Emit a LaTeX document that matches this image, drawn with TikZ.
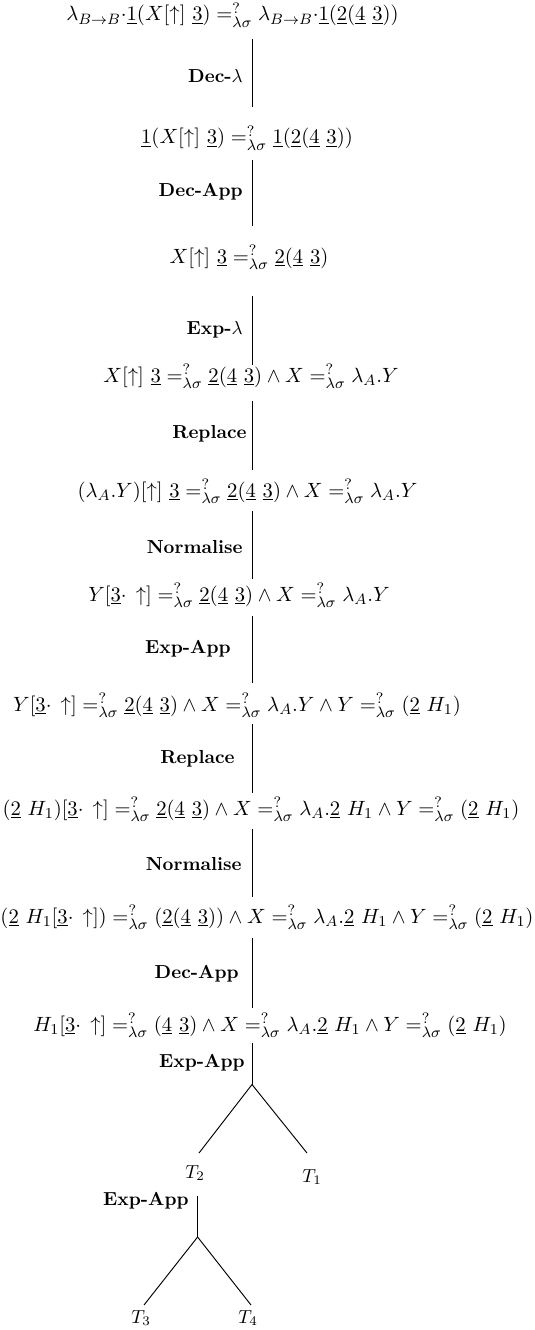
\documentclass[tikz,border=0pt]{standalone}
\usepackage{amsmath}
\begin{document}
\begin{tikzpicture}[x=0.5305pt,y=-0.5305pt,
  eq/.style={anchor=base,inner sep=0pt,font=\fontsize{10.8}{13}\selectfont},
  rule/.style={anchor=east,inner sep=0pt,font=\bfseries},
  leaf/.style={inner sep=0pt},
  edge/.style={line width=0.5pt}]
\useasboundingbox (0,0) rectangle (534,1330);
\newcommand{\equ}{=^{?}_{\lambda\sigma}}
\newcommand{\ul}[1]{\underline{#1}}
% equations
\node[eq] (l1) at (232.5,21) {$\lambda_{B\to B}{\cdot}\ul{1}(X[\uparrow]\ \ul{3}) \equ \lambda_{B\to B}{\cdot}\ul{1}(\ul{2}(\ul{4}\ \ul{3}))$};
\node[eq] (l2) at (247,144) {$\ul{1}(X[\uparrow]\ \ul{3}) \equ \ul{1}(\ul{2}(\ul{4}\ \ul{3}))$};
\node[eq] (l3) at (249,263) {$X[\uparrow]\ \ul{3} \equ \ul{2}(\ul{4}\ \ul{3})$};
\node[eq] (l4) at (251,382) {$X[\uparrow]\ \ul{3} \equ \ul{2}(\ul{4}\ \ul{3}) \wedge X \equ \lambda_A.Y$};
\node[eq] (l5) at (247.5,497) {$(\lambda_A.Y)[\uparrow]\ \ul{3} \equ \ul{2}(\ul{4}\ \ul{3}) \wedge X \equ \lambda_A.Y$};
\node[eq] (l6) at (239,601) {$Y[\ul{3}{\cdot}\,\uparrow] \equ \ul{2}(\ul{4}\ \ul{3}) \wedge X \equ \lambda_A.Y$};
\node[eq] (l7) at (237,711) {$Y[\ul{3}{\cdot}\,\uparrow] \equ \ul{2}(\ul{4}\ \ul{3}) \wedge X \equ \lambda_A.Y \wedge Y \equ (\ul{2}\ H_1)$};
\node[eq] (l8) at (261,815) {$(\ul{2}\ H_1)[\ul{3}{\cdot}\,\uparrow] \equ \ul{2}(\ul{4}\ \ul{3}) \wedge X \equ \lambda_A.\ul{2}\ H_1 \wedge Y \equ (\ul{2}\ H_1)$};
\node[eq] (l9) at (267,923) {$(\ul{2}\ H_1[\ul{3}{\cdot}\,\uparrow]) \equ (\ul{2}(\ul{4}\ \ul{3})) \wedge X \equ \lambda_A.\ul{2}\ H_1 \wedge Y \equ (\ul{2}\ H_1)$};
\node[eq] (l10) at (270,1031) {$H_1[\ul{3}{\cdot}\,\uparrow] \equ (\ul{4}\ \ul{3}) \wedge X \equ \lambda_A.\ul{2}\ H_1 \wedge Y \equ (\ul{2}\ H_1)$};
% rule labels
\node[rule] (r1) at (243,76) {Dec-$\lambda$};
\node[rule] (r2) at (243,192) {Dec-App};
\node[rule] (r3) at (243,330) {Exp-$\lambda$};
\node[rule] (r4) at (247,434) {Replace};
\node[rule] (r5) at (243,547) {Normalise};
\node[rule] (r6) at (231,649) {Exp-App};
\node[rule] (r7) at (235,759) {Replace};
\node[rule] (r8) at (242,864) {Normalise};
\node[rule] (r9) at (239,974) {Dec-App};
\node[rule] (r10) at (245,1063) {Exp-App};
\node[rule] (r11) at (189,1201) {Exp-App};
% connector endpoints
\coordinate (a1) at (252,39);   \coordinate (b1) at (252,107);
\coordinate (a2) at (252,160);  \coordinate (b2) at (252,226);
\coordinate (a3) at (252,296);  \coordinate (b3) at (252,365);
\coordinate (a4) at (252,401);  \coordinate (b4) at (252,470);
\coordinate (a5) at (252,511);  \coordinate (b5) at (252,579);
\coordinate (a6) at (252,616);  \coordinate (b6) at (252,683);
\coordinate (a7) at (252,724);  \coordinate (b7) at (252,793);
\coordinate (a8) at (252,829);  \coordinate (b8) at (252,897);
\coordinate (a9) at (252,938);  \coordinate (b9) at (252,1008);
\coordinate (a10) at (252,1043); \coordinate (b10) at (252,1084.5);
\coordinate (c2) at (199,1153); \coordinate (c1) at (307,1153);
\coordinate (a11) at (197.6,1196); \coordinate (b11) at (197.6,1237);
\coordinate (c3) at (144,1305); \coordinate (c4) at (251,1305);
% leaves
\node[leaf] (t2) at (195,1173) {$T_2$};
\node[leaf] (t1) at (312,1177) {$T_1$};
\node[leaf] (t3) at (141,1318) {$T_3$};
\node[leaf] (t4) at (248,1318) {$T_4$};
% connectors
\foreach \i in {1,...,11} {\draw[edge] (a\i) -- (b\i);}
\draw[edge] (b10) -- (c2);
\draw[edge] (b10) -- (c1);
\draw[edge] (b11) -- (c3);
\draw[edge] (b11) -- (c4);
\end{tikzpicture}
\end{document}
